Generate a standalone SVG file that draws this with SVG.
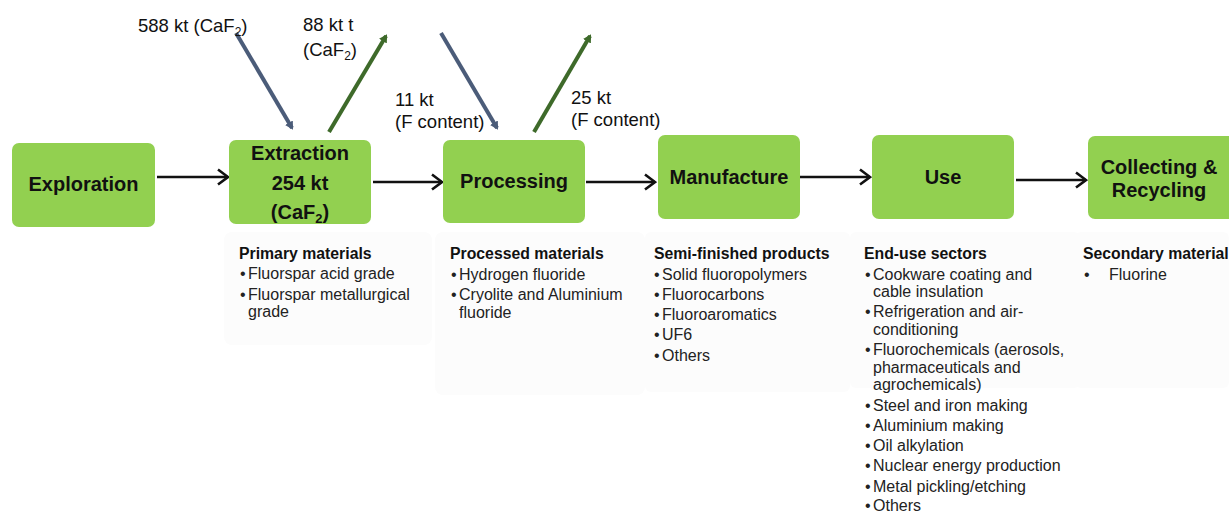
<svg xmlns="http://www.w3.org/2000/svg" width="1229" height="512" viewBox="0 0 1229 512">
<style>
.box{fill:#92d050;}
.nt{font-family:"Liberation Sans",Arial,sans-serif;font-weight:bold;font-size:20px;fill:#111;text-anchor:middle;}
.lbl{font-family:"Liberation Sans",Arial,sans-serif;font-size:18.5px;fill:#111;}
.hd{font-family:"Liberation Sans",Arial,sans-serif;font-weight:bold;font-size:15.8px;fill:#111;}
.it{font-family:"Liberation Sans",Arial,sans-serif;font-size:16px;fill:#222;}
.pan{fill:#fcfcfc;}
.flow{stroke:#111;stroke-width:2.6;fill:none;}
.in{stroke:#4b5c79;stroke-width:4;fill:none;}
.out{stroke:#3e6a2a;stroke-width:4;fill:none;}
</style>
<defs>
<marker id="chev" markerWidth="14" markerHeight="18" refX="12" refY="9" orient="auto" markerUnits="userSpaceOnUse">
<path d="M2,1.5 L12,9 L2,16.5" fill="none" stroke="#111" stroke-width="2.6"/>
</marker>
<marker id="tb" markerWidth="12" markerHeight="12" refX="6" refY="6" orient="auto" markerUnits="userSpaceOnUse">
<path d="M0,1.5 L8,6 L0,10.5 Z" fill="#4b5c79"/>
</marker>
<marker id="tg" markerWidth="12" markerHeight="12" refX="6" refY="6" orient="auto" markerUnits="userSpaceOnUse">
<path d="M0,1.5 L8,6 L0,10.5 Z" fill="#3e6a2a"/>
</marker>
</defs>
<rect width="1229" height="512" fill="#ffffff"/>
<g id="panels">
<rect class="pan" x="224" y="232" width="208" height="113" rx="8"/>
<rect class="pan" x="435" y="232" width="210" height="163" rx="8"/>
<rect class="pan" x="645" y="232" width="205" height="160" rx="6"/>
<rect class="pan" x="850" y="232" width="230" height="156" rx="6"/>
<rect class="pan" x="1075" y="232" width="154" height="156" rx="6"/>
</g>
<g id="connectors">
<line class="flow" x1="157" y1="177" x2="228" y2="177" marker-end="url(#chev)"/>
<line class="flow" x1="373" y1="182" x2="442" y2="182" marker-end="url(#chev)"/>
<line class="flow" x1="586" y1="182" x2="655" y2="182" marker-end="url(#chev)"/>
<line class="flow" x1="800" y1="177" x2="870" y2="177" marker-end="url(#chev)"/>
<line class="flow" x1="1016" y1="180" x2="1086" y2="180" marker-end="url(#chev)"/>
<line class="in" x1="236" y1="33" x2="292" y2="128" marker-end="url(#tb)"/>
<line class="out" x1="329" y1="132" x2="386" y2="36" marker-end="url(#tg)"/>
<line class="in" x1="441" y1="33" x2="497" y2="128" marker-end="url(#tb)"/>
<line class="out" x1="534" y1="132" x2="590" y2="36" marker-end="url(#tg)"/>
</g>
<g id="flow-labels">
<text class="lbl" x="138" y="32">588 kt (CaF<tspan font-size="12" dy="4">2</tspan><tspan dy="-4">)</tspan></text>
<text class="lbl" x="303" y="31">88 kt t</text>
<text class="lbl" x="303" y="56">(CaF<tspan font-size="12" dy="4">2</tspan><tspan dy="-4">)</tspan></text>
<text class="lbl" x="395" y="106">11 kt</text>
<text class="lbl" x="395" y="128">(F content)</text>
<text class="lbl" x="571" y="104">25 kt</text>
<text class="lbl" x="571" y="126">(F content)</text>
</g>
<g id="exploration">
<rect class="box" x="12" y="143" width="143" height="84" rx="7"/>
<text class="nt" x="83.5" y="191">Exploration</text>
</g>
<g id="extraction">
<rect class="box" x="229" y="140" width="142" height="84" rx="7"/>
<text class="nt" x="300" y="160">Extraction</text>
<text class="nt" x="300" y="190">254 kt</text>
<text class="nt" x="300" y="219">(CaF<tspan font-size="13" dy="4">2</tspan><tspan dy="-4">)</tspan></text>
</g>
<g id="processing">
<rect class="box" x="443" y="140" width="142" height="83" rx="7"/>
<text class="nt" x="514" y="188">Processing</text>
</g>
<g id="manufacture">
<rect class="box" x="658" y="135" width="142" height="84" rx="7"/>
<text class="nt" x="729" y="184">Manufacture</text>
</g>
<g id="use">
<rect class="box" x="872" y="135" width="142" height="84" rx="7"/>
<text class="nt" x="943" y="184">Use</text>
</g>
<g id="collecting">
<rect class="box" x="1088" y="136" width="150" height="83" rx="7"/>
<text class="nt" x="1159" y="174">Collecting &amp;</text>
<text class="nt" x="1159" y="197">Recycling</text>
</g>
<g id="primary-materials">
<text class="hd" x="239" y="259">Primary materials</text>
<text class="it" x="240" y="279">•</text><text class="it" x="248" y="279">Fluorspar acid grade</text>
<text class="it" x="240" y="300">•</text><text class="it" x="248" y="300">Fluorspar metallurgical</text>
<text class="it" x="248" y="317">grade</text>
</g>
<g id="processed-materials">
<text class="hd" x="450" y="259">Processed materials</text>
<text class="it" x="451" y="280">•</text><text class="it" x="459" y="280">Hydrogen fluoride</text>
<text class="it" x="451" y="300">•</text><text class="it" x="459" y="300">Cryolite and Aluminium</text>
<text class="it" x="459" y="318">fluoride</text>
</g>
<g id="semi-finished">
<text class="hd" x="654" y="259">Semi-finished  products</text>
<text class="it" x="654" y="280">•</text><text class="it" x="662" y="280">Solid fluoropolymers</text>
<text class="it" x="654" y="300">•</text><text class="it" x="662" y="300">Fluorocarbons</text>
<text class="it" x="654" y="320">•</text><text class="it" x="662" y="320">Fluoroaromatics</text>
<text class="it" x="654" y="340">•</text><text class="it" x="662" y="340">UF6</text>
<text class="it" x="654" y="361">•</text><text class="it" x="662" y="361">Others</text>
</g>
<g id="end-use">
<text class="hd" x="864" y="259">End-use sectors</text>
<text class="it" x="865" y="280">•</text><text class="it" x="873" y="280">Cookware coating and</text>
<text class="it" x="873" y="297">cable insulation</text>
<text class="it" x="865" y="317">•</text><text class="it" x="873" y="317">Refrigeration and air-</text>
<text class="it" x="873" y="335">conditioning</text>
<text class="it" x="865" y="355">•</text><text class="it" x="873" y="355">Fluorochemicals (aerosols,</text>
<text class="it" x="873" y="373">pharmaceuticals and</text>
<text class="it" x="873" y="390">agrochemicals)</text>
<text class="it" x="865" y="411">•</text><text class="it" x="873" y="411">Steel and iron making</text>
<text class="it" x="865" y="431">•</text><text class="it" x="873" y="431">Aluminium making</text>
<text class="it" x="865" y="451">•</text><text class="it" x="873" y="451">Oil alkylation</text>
<text class="it" x="865" y="471">•</text><text class="it" x="873" y="471">Nuclear energy production</text>
<text class="it" x="865" y="492">•</text><text class="it" x="873" y="492">Metal pickling/etching</text>
<text class="it" x="865" y="511">•</text><text class="it" x="873" y="511">Others</text>
</g>
<g id="secondary-material">
<text class="hd" x="1083" y="259">Secondary material</text>
<text class="it" x="1084" y="280">•</text><text class="it" x="1109" y="280">Fluorine</text>
</g>
</svg>
